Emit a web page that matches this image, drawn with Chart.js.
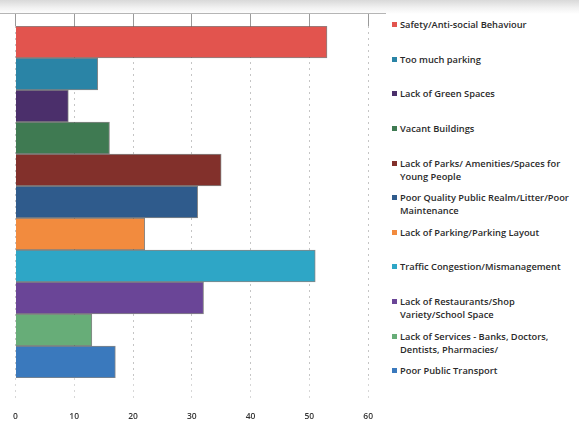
<!DOCTYPE html>
<html>
<head>
<meta charset="utf-8">
<script src="https://cdn.jsdelivr.net/npm/chart.js@4.4.1/dist/chart.umd.min.js"></script>
<style>
  html, body { margin: 0; padding: 0; }
  body {
    width: 579px; height: 425px; position: relative; overflow: hidden;
    background: linear-gradient(to bottom, #d9d9d9 0px, #f2f2f2 8px, #ffffff 14px);
    font-family: "Open Sans", "Noto Sans", sans-serif;
  }
  #chart { position: absolute; left: 0; top: 0; }
  #legend {
    position: absolute; left: 392px; top: 18px; width: 187px; height: 381px;
    display: grid; grid-template-rows: repeat(11, 1fr);
  }
  .item { display: flex; align-items: flex-start; font-size: 9.3px; font-weight: 600; color: #2a2a2a; line-height: 13px; white-space: nowrap; }
  .box { width: 5px; height: 5px; margin: 4px 3px 0 0; flex: none; }
</style>
</head>
<body>
<canvas id="chart" width="386" height="425"></canvas>
<div id="legend"></div>
<script>
// Проблеми району: кількість згадок за категоріями.
const categories = [
  ["Safety/Anti-social Behaviour"],
  ["Too much parking"],
  ["Lack of Green Spaces"],
  ["Vacant Buildings"],
  ["Lack of Parks/ Amenities/Spaces for", "Young People"],
  ["Poor Quality Public Realm/Litter/Poor", "Maintenance"],
  ["Lack of Parking/Parking Layout"],
  ["Traffic Congestion/Mismanagement"],
  ["Lack of Restaurants/Shop", "Variety/School Space"],
  ["Lack of Services - Banks, Doctors,", "Dentists, Pharmacies/"],
  ["Poor Public Transport"]
];
const counts = [53, 14, 9, 16, 35, 31, 22, 51, 32, 13, 17];
const colors = ["#e2544e", "#2a84a6", "#4b2f6b", "#3f7a52", "#82302b", "#2f5b8c",
                "#f28b3e", "#2ea6c6", "#6a4597", "#67ad78", "#3a79bd"];
const xTicks = [0, 10, 20, 30, 40, 50, 60];

// Горизонтальна лінія над областю графіка (верхня межа).
const topBorder = {
  id: "topBorder",
  beforeDatasetsDraw(chart) {
    const { ctx, chartArea } = chart;
    const y = chart.scales.xTop.top + 0.5;
    ctx.save();
    ctx.strokeStyle = "#b5b5b5";
    ctx.lineWidth = 1;
    ctx.beginPath();
    ctx.moveTo(0, y);
    ctx.lineTo(chart.width, y);
    ctx.stroke();
    ctx.restore();
  }
};

new Chart(document.getElementById("chart"), {
  type: "bar",
  data: {
    labels: categories,
    datasets: [{
      data: counts,
      backgroundColor: colors,
      borderColor: "rgba(35,35,35,0.55)",
      borderWidth: 1,
      categoryPercentage: 1,
      barPercentage: 1
    }]
  },
  options: {
    indexAxis: "y",
    responsive: false,
    animation: false,
    layout: { padding: { left: 9, right: 6, top: 13, bottom: 0 } },
    plugins: { legend: { display: false }, tooltip: { enabled: false } },
    scales: {
      y: { display: false },
      x: {
        position: "bottom",
        min: xTicks[0], max: xTicks[xTicks.length - 1],
        afterBuildTicks: (axis) => { axis.ticks = xTicks.map(v => ({ value: v })); },
        afterFit: (axis) => { axis.height = 47; },
        grid: {
          color: "rgba(140,140,140,0.5)",
          tickLength: 20,
          tickColor: "rgba(140,140,140,0.35)",
          tickBorderDash: [2, 4]
        },
        border: { display: false, dash: [2, 4] },
        ticks: {
          padding: 13,
          color: "#333",
          font: { family: "'Open Sans', sans-serif", size: 8.5, weight: "600" }
        }
      },
      xTop: {
        position: "top",
        min: xTicks[0], max: xTicks[xTicks.length - 1],
        afterBuildTicks: (axis) => { axis.ticks = xTicks.map(v => ({ value: v })); },
        grid: { drawOnChartArea: false, tickLength: 13, tickColor: "#9a9a9a" },
        border: { display: false },
        ticks: { display: false }
      }
    }
  },
  plugins: [topBorder]
});

// Легенда праворуч: квадратик кольору + назва категорії.
const legend = document.getElementById("legend");
categories.forEach((lines, i) => {
  const item = document.createElement("div");
  item.className = "item";
  item.innerHTML = `<span class="box" style="background:${colors[i]}"></span><span>${lines.join("<br>")}</span>`;
  legend.appendChild(item);
});
</script>
</body>
</html>
